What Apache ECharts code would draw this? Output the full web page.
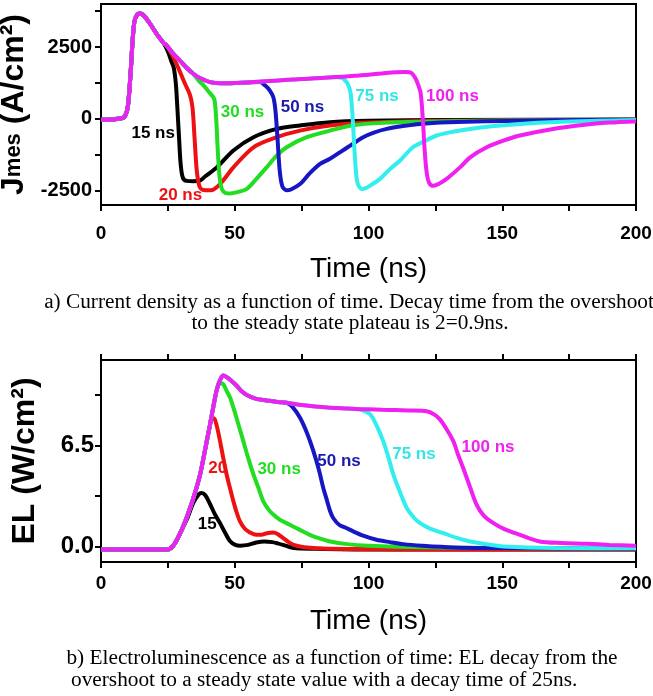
<!DOCTYPE html>
<html>
<head>
<meta charset="utf-8">
<script src="https://cdn.jsdelivr.net/npm/echarts@6/dist/echarts.min.js"></script>
<style>
  html, body { margin: 0; padding: 0; background: #fff; }
  #chart { width: 653px; height: 696px; }
</style>
</head>
<body>
<div id="chart"></div>
<script>
// ---------- Panel a: current density J (A/cm²) vs time (ns) ----------
// Pulse rise shared by every pulse length
const jRiseT = [0, 4, 8, 9, 10, 11, 11.8, 12.5, 13.5, 14.5, 16, 18.3, 20.8, 23.3];
const jRiseV = [-30, -20, 30, 100, 400, 1500, 2700, 3400, 3620, 3680, 3600, 3320, 2960, 2650];
// Overshoot decay and steady plateau shared while the pulse is on
const jPlatT = [24.5, 27, 29.5, 32, 34.5, 37, 40.7, 45, 50, 55, 60, 65, 70, 75, 80, 85, 90, 95, 100, 105, 110, 114, 116];
const jPlatV = [2560, 2270, 2030, 1780, 1570, 1420, 1280, 1240, 1250, 1270, 1300, 1330, 1360, 1390, 1410, 1440, 1470, 1500, 1540, 1580, 1620, 1630, 1600];

const j15T = [25, 26.4, 27.2, 28, 28.6, 29.2, 29.8, 30.6, 32, 34.5, 37, 39, 43.3, 49.5, 57, 65.7, 74.4, 85.6, 100, 130, 200];
const j15V = [2350, 1980, 1780, 1200, 300, -700, -1600, -2050, -2160, -2170, -2150, -2000, -1690, -1100, -640, -350, -230, -116, -70, -40, -20];
const j20T = [27, 29, 31.4, 33.2, 34.2, 35, 35.8, 36.8, 38.2, 41, 44.5, 49.5, 57, 65.7, 74.4, 85.6, 100, 130, 200];
const j20V = [2150, 1750, 1220, 850, 400, -700, -1800, -2350, -2480, -2490, -2270, -1690, -990, -640, -410, -230, -130, -70, -30];
const j30T = [36.5, 38.5, 40.7, 42.3, 43.0, 43.6, 44.3, 45.2, 46.5, 48.2, 51, 54.5, 58, 61.9, 65.5, 69.4, 76.9, 85.6, 94.3, 105, 120, 150, 200];
const j30V = [1330, 1150, 900, 700, 100, -1000, -2000, -2450, -2580, -2600, -2550, -2440, -2100, -1690, -1300, -990, -640, -410, -220, -140, -100, -60, -30];
const j50T = [59.4, 61.5, 63, 64.4, 65.2, 66, 66.8, 67.8, 69.4, 71, 74.4, 78, 81.9, 85.6, 89.3, 94, 98, 102, 106.8, 113, 119.3, 130, 144, 170, 200];
const j50V = [1280, 1150, 1000, 760, 300, -700, -1800, -2350, -2490, -2460, -2270, -1900, -1570, -1390, -1165, -880, -640, -480, -350, -250, -175, -120, -84, -50, -30];
const j75T = [88, 90.5, 92.3, 93.3, 94.1, 94.9, 95.8, 97.4, 99, 101, 104.3, 108, 111.8, 116.6, 120.5, 125.5, 132, 138, 147, 156.6, 170, 185, 200];
const j75V = [1450, 1400, 1200, 900, 0, -1300, -2200, -2440, -2410, -2300, -2090, -1750, -1450, -990, -800, -580, -440, -350, -250, -175, -110, -70, -40];
const j100T = [117.5, 118.5, 119.5, 120.3, 121, 121.8, 122.8, 124.3, 126.5, 129.2, 134.2, 138, 144.2, 150.4, 156.6, 169, 181.6, 190, 200];
const j100V = [1420, 1200, 900, 0, -1100, -1900, -2250, -2330, -2250, -2090, -1690, -1340, -990, -760, -580, -350, -200, -130, -90];

// ---------- Panel b: electroluminescence EL (W/cm²) vs time (ns) ----------
const eRiseT = [0, 10, 20, 25, 26.5, 28, 30, 32, 34.5];
const eRiseV = [-0.2, -0.2, -0.2, -0.2, -0.05, 0.3, 1.0, 1.85, 3.1];
const ePlatT = [37, 39, 40.7, 42, 43.3, 44.5, 45.7, 47, 48.5, 50.7, 52.5, 54.5, 58, 61.9, 66, 69.4, 75, 80, 85.6, 90, 95, 100, 105, 110, 115, 121.8];
const ePlatV = [4.6, 6.3, 7.8, 9.0, 10.1, 10.7, 11.0, 10.9, 10.7, 10.35, 10.0, 9.75, 9.5, 9.4, 9.3, 9.25, 9.1, 9.0, 8.93, 8.9, 8.85, 8.83, 8.8, 8.78, 8.75, 8.7];

const e15T = [32, 34.5, 36.5, 37.6, 39, 40.7, 42.5, 44.5, 46.5, 48.2, 50, 52, 55, 58, 61, 64, 66, 69, 72, 80, 100, 150, 200];
const e15V = [1.7, 2.8, 3.35, 3.44, 3.3, 2.75, 2.1, 1.5, 0.85, 0.35, 0.12, 0.05, 0.1, 0.25, 0.32, 0.28, 0.2, 0.05, -0.1, -0.15, -0.2, -0.2, -0.2];
const e20T = [40.7, 41.5, 42.5, 43.5, 44.5, 45.7, 47, 48.3, 49.5, 50.7, 52, 54, 57, 60, 62, 64.4, 66, 68, 70, 72, 76, 85, 120, 200];
const e20V = [7.75, 8.3, 8.2, 7.6, 6.78, 5.7, 4.6, 3.7, 2.9, 2.2, 1.6, 1.1, 0.8, 0.75, 0.85, 0.9, 0.8, 0.55, 0.3, 0.1, -0.05, -0.15, -0.2, -0.2];
const e30T = [44.5, 45.7, 47, 48.2, 49.5, 51.3, 53.2, 55, 57, 59, 60.7, 62.5, 64.4, 67, 70.6, 74, 78, 82, 85.6, 92, 100, 120, 150, 200];
const e30V = [10.5, 10.45, 10.0, 9.6, 8.93, 7.9, 6.78, 5.7, 4.63, 3.7, 2.9, 2.4, 2.05, 1.7, 1.4, 1.1, 0.75, 0.5, 0.32, 0.15, 0.05, -0.05, -0.1, -0.15];
const e50T = [71.5, 74.4, 77, 79.4, 81.5, 83.1, 84.4, 85.6, 86.8, 89, 91.5, 94.3, 98, 103, 108, 113, 120, 131.7, 150, 200];
const e50V = [9.0, 8.28, 7.3, 6.13, 4.9, 3.76, 3.0, 2.3, 1.83, 1.4, 1.2, 0.97, 0.7, 0.43, 0.28, 0.15, 0.05, -0.06, -0.1, -0.15];
const e75T = [94.3, 97, 100.6, 103, 105.5, 107.5, 109.3, 112, 114.3, 117, 119.3, 123, 128, 133, 138, 145, 150.4, 170, 200];
const e75V = [8.86, 8.8, 8.5, 7.8, 6.78, 5.7, 4.63, 3.4, 2.47, 1.85, 1.5, 1.15, 0.86, 0.55, 0.32, 0.12, 0.0, -0.1, -0.12];
const e100T = [124.5, 126.7, 129, 131.7, 133.5, 135.4, 138, 140.4, 143, 146.7, 151, 156.6, 164, 172, 181.6, 190, 200];
const e100V = [8.5, 8.18, 7.6, 6.78, 5.9, 5.05, 3.8, 2.69, 2.0, 1.5, 1.1, 0.75, 0.32, 0.22, 0.17, 0.1, 0.05];

// Pulse-length labels and where they sit (data coordinates)
const jLabels = ['15 ns', '20 ns', '30 ns', '50 ns', '75 ns', '100 ns'];
const jLabelAt = [[19.5, -520], [29.7, -2650], [52.9, 230], [75.3, 410], [103.2, 780], [131.4, 780]];
const eLabels = ['15', '20', '30 ns', '50 ns', '75 ns', '100 ns'];
const eLabelAt = [[39.7, 1.45], [43.6, 5.0], [66.6, 4.95], [89.0, 5.45], [117.0, 5.9], [144.7, 6.35]];

const colors = ['#000000', '#ee1111', '#22dd22', '#1616c4', '#33eeee', '#f020f0'];
const labelColors = ['#000000', '#ee1111', '#22dd22', '#1a1ab0', '#33e6e6', '#ee22ee'];

// Join the shared rise, the shared plateau up to where a trace leaves it, and its own tail
function trace(riseT, riseV, platT, platV, tailT, tailV) {
  const start = tailT[0];
  const pts = [];
  riseT.forEach((t, i) => { if (t < start) pts.push([t, riseV[i]]); });
  platT.forEach((t, i) => { if (t < start) pts.push([t, platV[i]]); });
  tailT.forEach((t, i) => pts.push([t, tailV[i]]));
  return pts;
}

const jSets = [
  [jRiseT, jRiseV, [], [], j15T, j15V],
  [jRiseT, jRiseV, jPlatT, jPlatV, j20T, j20V],
  [jRiseT, jRiseV, jPlatT, jPlatV, j30T, j30V],
  [jRiseT, jRiseV, jPlatT, jPlatV, j50T, j50V],
  [jRiseT, jRiseV, jPlatT, jPlatV, j75T, j75V],
  [jRiseT, jRiseV, jPlatT, jPlatV, j100T, j100V]
];
const eSets = [
  [eRiseT, eRiseV, [], [], e15T, e15V],
  [eRiseT, eRiseV, ePlatT, ePlatV, e20T, e20V],
  [eRiseT, eRiseV, ePlatT, ePlatV, e30T, e30V],
  [eRiseT, eRiseV, ePlatT, ePlatV, e50T, e50V],
  [eRiseT, eRiseV, ePlatT, ePlatV, e75T, e75V],
  [eRiseT, eRiseV, ePlatT, ePlatV, e100T, e100V]
];

const sans = '"Liberation Sans", Arial, sans-serif';
const serif = '"Liberation Serif", "Times New Roman", serif';

function lineSeries(name, pts, idx, axisIdx, labelText, labelAt) {
  return {
    name: name,
    type: 'line',
    xAxisIndex: axisIdx,
    yAxisIndex: axisIdx,
    data: pts,
    showSymbol: false,
    smooth: 0.3,
    lineStyle: { color: colors[idx], width: 4 },
    itemStyle: { color: colors[idx] },
    z: 2 + idx,
    silent: true,
    markPoint: {
      symbol: 'circle',
      symbolSize: 0,
      silent: true,
      label: {
        show: true,
        position: 'inside',
        formatter: labelText,
        color: labelColors[idx],
        fontFamily: sans,
        fontWeight: 'bold',
        fontSize: 17
      },
      data: [{ coord: labelAt }]
    }
  };
}

const series = [];
jSets.forEach((s, i) => series.push(lineSeries('J ' + jLabels[i], trace(...s), i, 0, jLabels[i], jLabelAt[i])));
eSets.forEach((s, i) => series.push(lineSeries('EL ' + eLabels[i], trace(...s), i, 1, eLabels[i], eLabelAt[i])));

const axisLine = { show: true, onZero: false, lineStyle: { color: '#000', width: 2 } };
const tick = { show: true, inside: false, length: 6, lineStyle: { color: '#000', width: 2 } };
const tickLabel = { color: '#000', fontFamily: sans, fontWeight: 'bold' };

function timeAxis(grid, margin, gap) {
  return {
    type: 'value', gridIndex: grid, min: 0, max: 200, interval: 25,
    axisLine: axisLine, axisTick: tick, splitLine: { show: false },
    axisLabel: Object.assign({ fontSize: 19, margin: margin, formatter: v => (v % 50 === 0 ? String(v) : '') }, tickLabel),
    name: 'Time (ns)', nameLocation: 'middle', nameGap: gap,
    nameTextStyle: { fontFamily: sans, fontSize: 28, color: '#000' }
  };
}

const option = {
  animation: false,
  backgroundColor: '#fff',
  grid: [
    { left: 101, top: 4, width: 535, height: 201, outerBoundsMode: 'none', containLabel: false, show: true, borderColor: '#000', borderWidth: 2 },
    { left: 101, top: 360, width: 535, height: 202, outerBoundsMode: 'none', containLabel: false, show: true, borderColor: '#000', borderWidth: 2 }
  ],
  xAxis: [
    timeAxis(0, 19, 50),
    timeAxis(1, 12, 45),
    {
      type: 'value', gridIndex: 1, position: 'top', min: 0, max: 200, interval: 25,
      axisLine: axisLine, axisTick: tick, axisLabel: { show: false }, splitLine: { show: false }
    }
  ],
  yAxis: [
    {
      type: 'value', gridIndex: 0, min: -3000, max: 4000,
      axisLine: axisLine,
      axisTick: Object.assign({ customValues: [-2500, -1250, 0, 1250, 2500, 3750] }, tick),
      axisLabel: Object.assign({ fontSize: 20, margin: 9, customValues: [-2500, 0, 2500], formatter: v => String(v) }, tickLabel),
      splitLine: { show: false },
      name: '{big|J}{sub|mes}{big| (A/cm²)}',
      nameLocation: 'middle', nameGap: 60,
      nameTextStyle: {
        color: '#000',
        rich: {
          big: { fontFamily: sans, fontWeight: 'bold', fontSize: 32, color: '#000', verticalAlign: 'middle' },
          sub: { fontFamily: sans, fontWeight: 'bold', fontSize: 22, color: '#000', verticalAlign: 'middle' }
        }
      }
    },
    {
      type: 'value', gridIndex: 1, min: -1, max: 12,
      axisLine: axisLine,
      axisTick: Object.assign({ customValues: [0, 3.25, 6.5, 9.75] }, tick),
      axisLabel: Object.assign({ fontSize: 24, margin: 7, customValues: [0, 6.5], formatter: v => v.toFixed(1) }, tickLabel),
      splitLine: { show: false },
      name: 'EL (W/cm²)',
      nameLocation: 'middle', nameGap: 60,
      nameTextStyle: { fontFamily: sans, fontWeight: 'bold', fontSize: 32, color: '#000' }
    }
  ],
  series: series,
  graphic: [
    { type: 'text', x: 349, y: 302, style: { text: 'a) Current density as a function of time. Decay time from the overshoot', font: '21.3px ' + serif, fill: '#000', align: 'center', verticalAlign: 'middle' } },
    { type: 'text', x: 350, y: 323, style: { text: 'to the steady state plateau is 2=0.9ns.', font: '21.3px ' + serif, fill: '#000', align: 'center', verticalAlign: 'middle' } },
    { type: 'text', x: 342, y: 658, style: { text: 'b) Electroluminescence as a function of time: EL decay from the', font: '21.3px ' + serif, fill: '#000', align: 'center', verticalAlign: 'middle' } },
    { type: 'text', x: 71, y: 680, style: { text: 'overshoot to a steady state value with a decay time of 25ns.', font: '21.3px ' + serif, fill: '#000', align: 'left', verticalAlign: 'middle' } }
  ]
};

const chart = echarts.init(document.getElementById('chart'), null, { renderer: 'canvas' });
chart.setOption(option);
</script>
</body>
</html>
